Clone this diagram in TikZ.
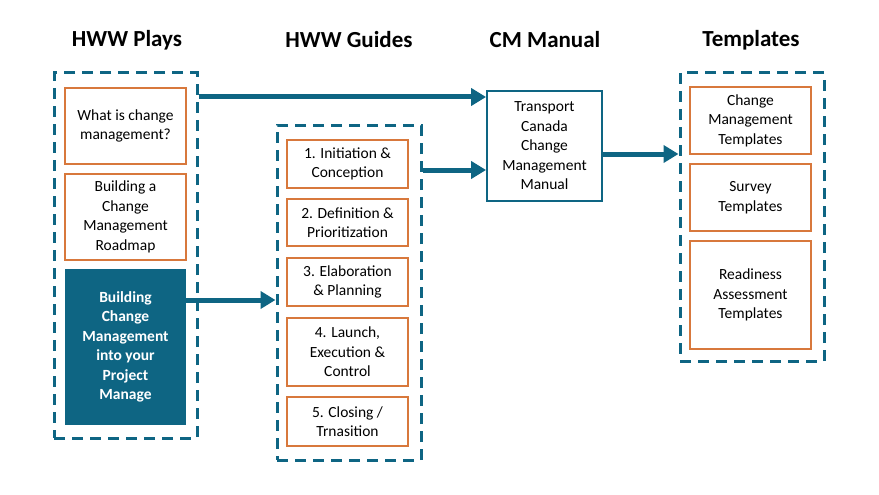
\documentclass[tikz,border=0pt]{standalone}
\usepackage{fontspec}
\setmainfont{Carlito}
\usetikzlibrary{arrows.meta}
\definecolor{teal}{HTML}{0E6583}
\definecolor{orng}{HTML}{D8783C}
\tikzset{
  hdr/.style={font=\fontsize{23}{26}\selectfont\bfseries, anchor=center},
  obox/.style={draw=orng, line width=1.8pt, fill=white, align=center, inner sep=0pt,
    font=\fontsize{15.5}{19.5}\selectfont},
  tbox/.style={draw=teal, line width=1.8pt, fill=white, align=center, inner sep=0pt,
    font=\fontsize{15.5}{19.5}\selectfont},
  dbox/.style={fill=teal, text=white, align=center, inner sep=0pt,
    font=\fontsize{15.5}{19.5}\selectfont\bfseries},
  grp/.style={draw=teal, line width=3pt, dash pattern=on 11pt off 7pt, inner sep=0pt},
  conn/.style={draw=teal, line width=5pt, -{Triangle[length=15pt,width=17pt]}},
}
\begin{document}
\begin{tikzpicture}[x=1pt,y=-1pt]
\useasboundingbox (0,0) rectangle (879,495);
% headers
\node[hdr] (h1) at (127,40) {HWW Plays};
\node[hdr] (h2) at (349,40) {HWW Guides};
\node[hdr] (h3) at (545,40) {CM Manual};
\node[hdr] (h4) at (751,40) {Templates};
% group boxes
\node[grp, minimum width=143, minimum height=365] (g1) at (125.5,255.5) {};
\node[grp, minimum width=144, minimum height=335] (g2) at (349,292.5) {};
\node[grp, minimum width=144, minimum height=288] (g4) at (752,217) {};
% plays
\node[obox, minimum width=121, minimum height=76] (p1) at (125.5,126) {What is change\\management?};
\node[obox, minimum width=121, minimum height=86] (p2) at (125.5,217) {Building a\\Change\\Management\\Roadmap};
\node[dbox, minimum width=121, minimum height=156] (p3) at (125.5,347) {Building\\Change\\Management\\into your\\Project\\Manage};
% guides
\node[obox, minimum width=121, minimum height=48] (s1) at (347.5,164) {1. Initiation \&\\Conception};
\node[obox, minimum width=121, minimum height=47] (s2) at (347.5,222.5) {2. Definition \&\\Prioritization};
\node[obox, minimum width=121, minimum height=48] (s3) at (347.5,282) {3. Elaboration\\\& Planning};
\node[obox, minimum width=121, minimum height=68] (s4) at (347.5,352) {4. Launch,\\Execution \&\\Control};
\node[obox, minimum width=121, minimum height=49] (s5) at (347.5,421.5) {5. Closing /\\Trnasition};
% manual
\node[tbox, minimum width=115, minimum height=110] (m) at (544.5,146) {Transport\\Canada\\Change\\Management\\Manual};
% templates
\node[obox, minimum width=121, minimum height=67] (t1) at (750.5,120.5) {Change\\Management\\Templates};
\node[obox, minimum width=121, minimum height=67] (t2) at (750.5,197.5) {Survey\\Templates};
\node[obox, minimum width=121, minimum height=108] (t3) at (750.5,295) {Readiness\\Assessment\\Templates};
% connectors
\draw[conn] (g1.east |- 0,97) -- (m.west |- 0,97);
\draw[conn] (g2.east |- 0,170) -- (m.west |- 0,170);
\draw[conn] (p3.east |- 0,300) -- (g2.west |- 0,300);
\draw[conn] (m.east |- 0,154) -- (g4.west |- 0,154);
\end{tikzpicture}
\end{document}
